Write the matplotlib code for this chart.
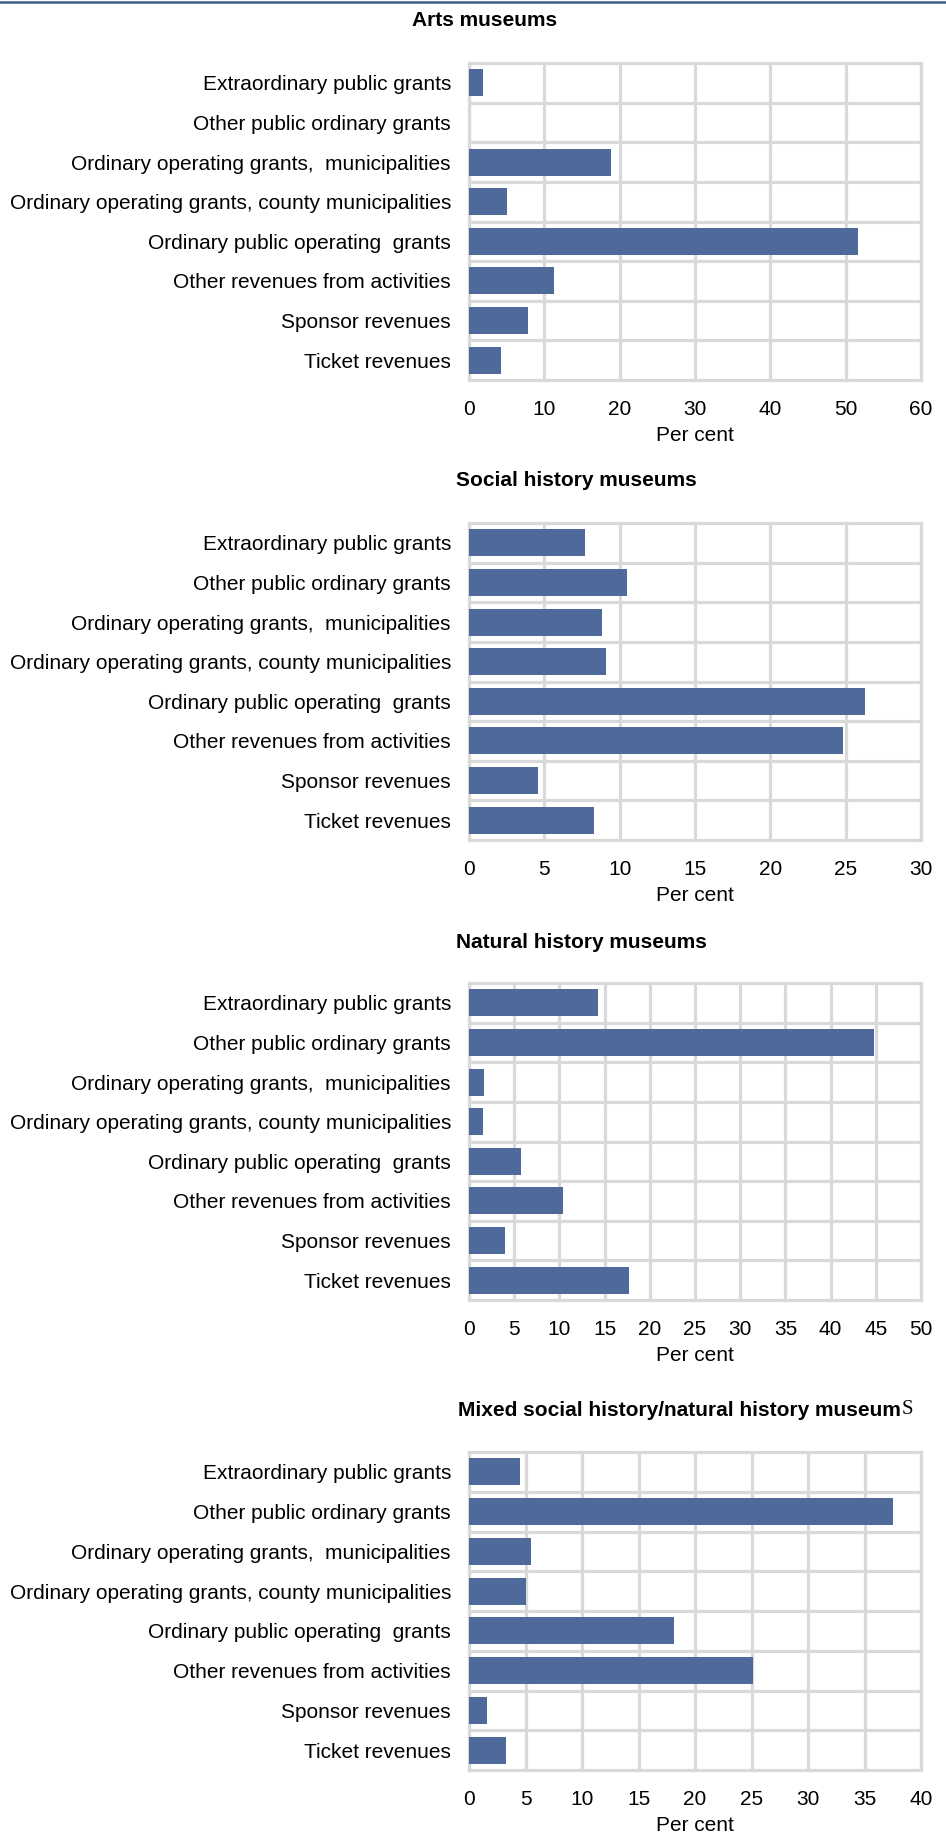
import matplotlib
matplotlib.use("Agg")
import matplotlib.pyplot as plt
from matplotlib.lines import Line2D

plt.rcParams["font.family"] = ["Liberation Sans", "DejaVu Sans"]

categories = [
    "Extraordinary public grants",
    "Other public ordinary grants",
    "Ordinary operating grants,  municipalities",
    "Ordinary operating grants, county municipalities",
    "Ordinary public operating  grants",
    "Other revenues from activities",
    "Sponsor revenues",
    "Ticket revenues",
]

arts = [1.9, 0.0, 18.8, 5.0, 51.6, 11.3, 7.8, 4.2]
social = [7.7, 10.5, 8.8, 9.1, 26.3, 24.8, 4.6, 8.3]
natural = [14.3, 44.8, 1.7, 1.5, 5.7, 10.4, 4.0, 17.7]
mixed = [4.5, 37.5, 5.5, 5.0, 18.1, 25.1, 1.6, 3.3]

titles = ["Arts museums", "Social history museums", "Natural history museums",
          "Mixed social history/natural history museum"]
xmax = [60, 30, 50, 40]
xstep = [10, 5, 5, 5]

W, H = 946, 1834
BAR = "#4e6a9b"
GRID = "#d9d9d9"
FS = 15

fig = plt.figure(figsize=(W / 100, H / 100), dpi=100)
fig.add_artist(Line2D([0, 1], [1 - 2 / H, 1 - 2 / H], color="#3e5a8c", lw=1.8,
                      transform=fig.transFigure))

# axes top/bottom, title x (left edge) and title y, all in pixels
boxes = [(63, 380, 412, 21), (523, 840, 456, 480),
         (983, 1300, 456, 942), (1452, 1770, 458, 1410)]
left, right = 469, 921

for i, (vals, title, xm, st, (top, bot, tx, ty)) in enumerate(zip(
        [arts, social, natural, mixed], titles, xmax, xstep, boxes)):
    ax = fig.add_axes([left / W, 1 - bot / H, (right - left) / W, (bot - top) / H])
    y = range(len(categories))
    ax.barh(y, vals, height=0.68, color=BAR, zorder=3)
    ax.set_ylim(len(categories) - 0.5, -0.5)
    ax.set_xlim(0, xm)
    ax.set_xticks(range(0, xm + 1, st))
    ax.set_yticks(list(y))
    ax.set_yticklabels(categories)
    ax.set_yticks([k + 0.5 for k in range(len(categories) - 1)], minor=True)
    ax.grid(axis="x", which="major", color=GRID, lw=2.3, zorder=0)
    ax.grid(axis="y", which="minor", color=GRID, lw=2.3, zorder=0)
    ax.tick_params(axis="both", which="both", length=0, labelsize=FS, colors="black")
    ax.tick_params(axis="y", pad=13)
    ax.tick_params(axis="x", pad=14.5)
    for s in ax.spines.values():
        s.set_color(GRID)
        s.set_linewidth(2.3)
        s.set_zorder(0)
    ax.set_xlabel("Per cent", fontsize=FS, labelpad=5)
    t = fig.text(tx / W, 1 - ty / H, title, fontsize=15, fontweight="bold",
                 ha="left", va="center")
    if i == 3:
        # the last letter of this title is set in a serif face in the original
        ax.annotate("S", xy=(1, 0), xycoords=t, xytext=(0.5, 0),
                    textcoords="offset points", fontsize=15,
                    family="Liberation Serif", va="bottom", ha="left")

fig.savefig("out.png", dpi=100)
